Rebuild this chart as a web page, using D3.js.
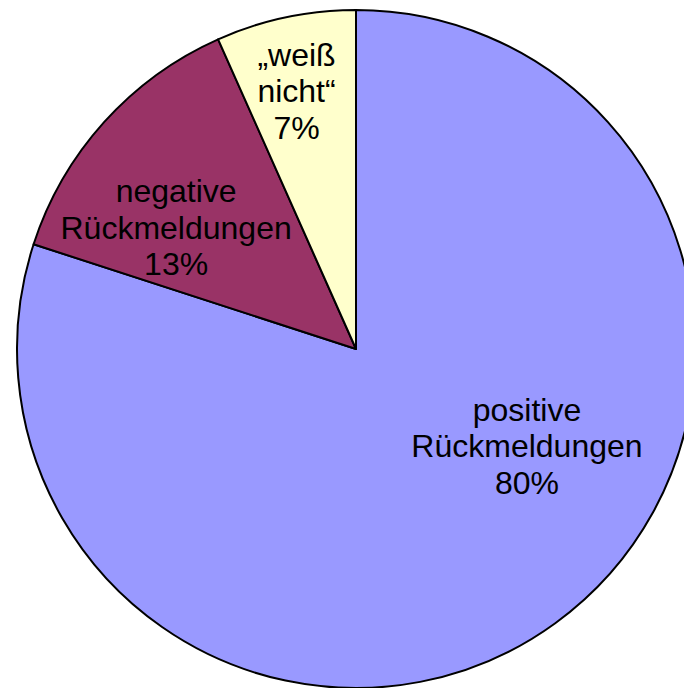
<!DOCTYPE html>
<meta charset="utf-8">
<style>
body { margin: 0; background: #fff; }
text { font-family: "Liberation Sans", Arial, sans-serif; font-size: 32px; fill: #000; }
</style>
<body>
<svg width="684" height="688"></svg>
<script src="https://d3js.org/d3.v7.min.js"></script>
<script>

// data (counts; percentages are computed)
var categories = ["positive Rückmeldungen", "negative Rückmeldungen", "weiß nicht"];
var labelLines = [["positive", "Rückmeldungen"], ["negative", "Rückmeldungen"], ["\u201eweiß", "nicht\u201c"]];
var values = [12, 2, 1];
var colors = ["#9999ff", "#993366", "#ffffcc"];

var svg = d3.select("svg"),
    cx = 356, cy = 349, radius = 339;

// label placement: angle (deg, clockwise from top) and radius fraction
var labelAngle = [119.6, 304, 347];
var labelRadius = [0.58, 0.64, 0.78];

var total = d3.sum(values);
var pie = d3.pie().sort(null).value(function(d) { return d; });
var arc = d3.arc().innerRadius(0).outerRadius(radius);

var g = svg.append("g").attr("transform", "translate(" + cx + "," + cy + ")");

var arcs = pie(values);

g.selectAll("path")
  .data(arcs)
  .enter().append("path")
    .attr("d", arc)
    .attr("fill", function(d, i) { return colors[i]; })
    .attr("stroke", "#000")
    .attr("stroke-width", 2)
    .attr("stroke-linejoin", "round");

var lineH = 36.5;
var lab = g.selectAll("g.lab")
  .data(arcs)
  .enter().append("g")
    .attr("class", "lab")
    .attr("transform", function(d, i) {
      var a = labelAngle[i] * Math.PI / 180, r = labelRadius[i] * radius;
      return "translate(" + (r * Math.sin(a)) + "," + (-r * Math.cos(a)) + ")";
    });

lab.each(function(d, i) {
  var sel = d3.select(this);
  var lines = labelLines[i].concat([Math.round(d.value / total * 100) + "%"]);
  lines.forEach(function(t, j) {
    sel.append("text")
      .attr("text-anchor", "middle")
      .attr("y", (j - 1) * lineH + 11)
      .text(t);
  });
});

</script>
</body>
